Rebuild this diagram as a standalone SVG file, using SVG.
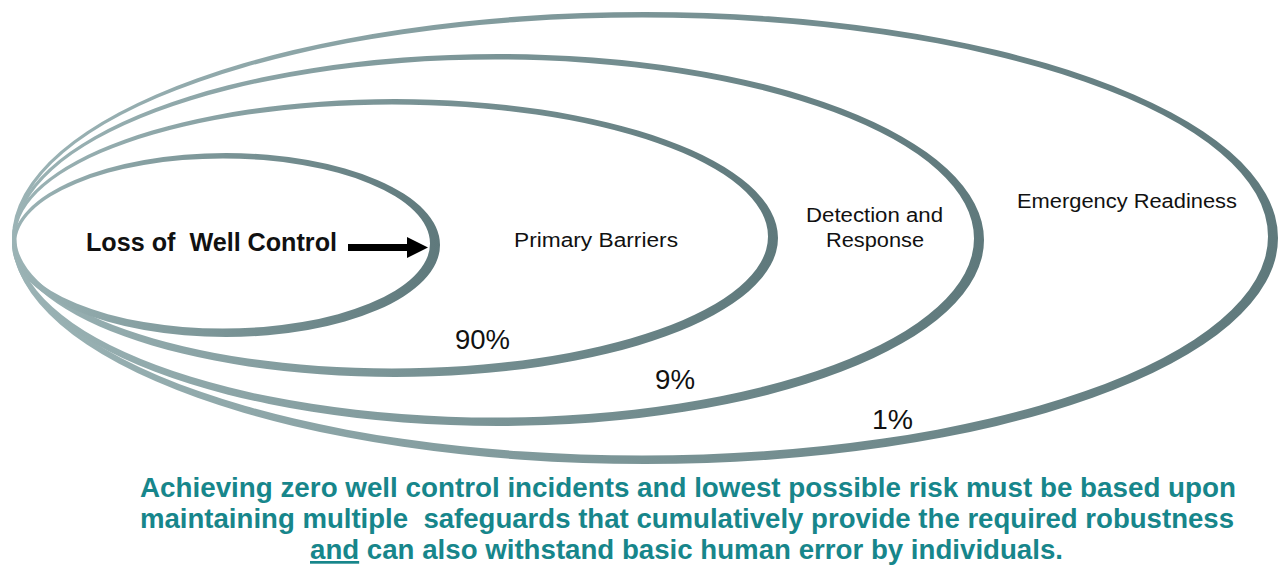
<svg xmlns="http://www.w3.org/2000/svg" width="1280" height="569" viewBox="0 0 1280 569">
<defs>
<linearGradient id="ring" x1="0" y1="0" x2="1" y2="0">
<stop offset="0" stop-color="#9bb3b5"/>
<stop offset="0.5" stop-color="#7a9496"/>
<stop offset="1" stop-color="#5f797c"/>
</linearGradient>
</defs>
<style>
.ring{fill:url(#ring);fill-rule:evenodd}
.lbl{font-family:"Liberation Sans",Arial,sans-serif;fill:#111}
.pct{font-family:"Liberation Sans",Arial,sans-serif;font-size:27px;fill:#111}
.note{font-family:"Liberation Sans",Arial,sans-serif;font-size:27px;font-weight:bold;fill:#17868b}
</style>
<rect width="1280" height="569" fill="#fff"/>
<g id="ring-emergency">
<path class="ring" d="M12,238 a633,226 0 1,0 1266,0 a633,226 0 1,0 -1266,0 Z M16,236.5 a626,219 0 1,0 1252,0 a626,219 0 1,0 -1252,0 Z"/>
<text class="lbl" x="1017" y="208" font-size="20" textLength="220" lengthAdjust="spacingAndGlyphs">Emergency Readiness</text>
<text class="pct" x="872" y="429" textLength="41" lengthAdjust="spacingAndGlyphs">1%</text>
</g>
<g id="ring-detection">
<path class="ring" d="M12,240 a486,186 0 1,0 972,0 a486,186 0 1,0 -972,0 Z M16,238.5 a479,179 0 1,0 958,0 a479,179 0 1,0 -958,0 Z"/>
<text class="lbl" x="806" y="222" font-size="20" textLength="137" lengthAdjust="spacingAndGlyphs">Detection and</text>
<text class="lbl" x="826" y="247" font-size="20" textLength="98" lengthAdjust="spacingAndGlyphs">Response</text>
<text class="pct" x="655" y="389" textLength="40" lengthAdjust="spacingAndGlyphs">9%</text>
</g>
<g id="ring-primary">
<path class="ring" d="M12,238 a383,139 0 1,0 766,0 a383,139 0 1,0 -766,0 Z M16,236.5 a376,132 0 1,0 752,0 a376,132 0 1,0 -752,0 Z"/>
<text class="lbl" x="514" y="247" font-size="20" textLength="164" lengthAdjust="spacingAndGlyphs">Primary Barriers</text>
<text class="pct" x="455" y="349" textLength="55" lengthAdjust="spacingAndGlyphs">90%</text>
</g>
<g id="ring-loss">
<path class="ring" d="M12,245 a214,92 0 1,0 428,0 a214,92 0 1,0 -428,0 Z M16,243.5 a207,85 0 1,0 414,0 a207,85 0 1,0 -414,0 Z"/>
<text class="lbl" x="86" y="251" font-size="25" font-weight="bold" xml:space="preserve" textLength="251" lengthAdjust="spacingAndGlyphs">Loss of  Well Control</text>
</g>
<g id="connectors">
<path d="M348,244 L407,244 L407,237 L428,247.5 L407,258 L407,251 L348,251 Z" fill="#000"/>
</g>
<g id="caption">
<text class="note" x="140" y="497" textLength="1096" lengthAdjust="spacingAndGlyphs">Achieving zero well control incidents and lowest possible risk must be based upon</text>
<text class="note" x="140" y="528" xml:space="preserve" textLength="1094" lengthAdjust="spacingAndGlyphs">maintaining multiple  safeguards that cumulatively provide the required robustness</text>
<text class="note" x="310" y="559" textLength="753" lengthAdjust="spacingAndGlyphs"><tspan text-decoration="underline">and</tspan> can also withstand basic human error by individuals.</text>
</g>
</svg>
